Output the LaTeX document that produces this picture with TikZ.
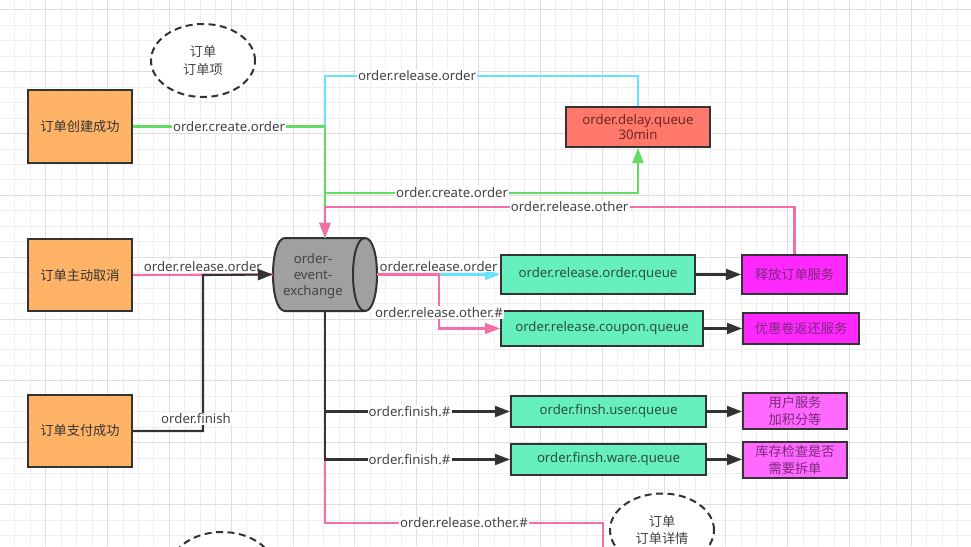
\documentclass[tikz,border=0pt]{standalone}
\usepackage{fontspec}
\setmainfont{Noto Sans}
\newfontfamily\cjk{Noto Sans CJK SC}
\usetikzlibrary{arrows.meta,shapes.geometric,calc}
\definecolor{linedark}{RGB}{51,51,51}
\definecolor{labelgray}{RGB}{68,68,68}
\definecolor{orangefill}{RGB}{255,179,102}
\definecolor{delayfill}{RGB}{255,120,105}
\definecolor{delaytext}{RGB}{110,40,35}
\definecolor{qfill}{RGB}{102,240,190}
\definecolor{qtext}{RGB}{45,80,65}
\definecolor{magA}{RGB}{255,40,255}
\definecolor{magB}{RGB}{255,105,255}
\definecolor{magtext}{RGB}{125,40,125}
\definecolor{exfill}{RGB}{160,160,160}
\definecolor{cyanline}{RGB}{102,228,255}
\definecolor{greenline}{RGB}{100,220,100}
\definecolor{pinkline}{RGB}{245,110,165}
\definecolor{gridminor}{RGB}{238,238,238}
\definecolor{gridmajor}{RGB}{222,222,222}
\tikzset{
  basefont/.style={font=\fontsize{13.2}{16.5}\selectfont},
  cjkfont/.style={font=\cjk\fontsize{13.2}{16.5}\selectfont},
  srcbox/.style={draw=linedark, line width=2pt, fill=orangefill, inner sep=0pt, align=center, cjkfont, text=linedark},
  delaybox/.style={draw=linedark, line width=2pt, fill=delayfill, inner sep=0pt, align=center, font=\fontsize{13.2}{15.5}\selectfont, text=delaytext},
  qbox/.style={draw=linedark, line width=2pt, fill=qfill, inner sep=0pt, align=center, basefont, text=qtext},
  svcbox/.style={draw=linedark, line width=2pt, inner sep=0pt, align=center, cjkfont, text=magtext},
  note/.style={ellipse, draw=linedark, line width=2pt, dash pattern=on 7pt off 4.5pt, fill=white, inner sep=0pt, minimum width=104pt, minimum height=73pt, align=center, font=\cjk\fontsize{13.2}{17.5}\selectfont, text=labelgray},
  lbl/.style={fill=white, inner sep=1.2pt, basefont, text=labelgray},
  conn/.style={line width=2.1pt},
  dline/.style={conn, draw=linedark},
  cline/.style={conn, draw=cyanline},
  gline/.style={conn, draw=greenline},
  pline/.style={conn, draw=pinkline},
  arr/.style={-{Triangle[length=15pt,width=11pt]}},
}
\begin{document}
\begin{tikzpicture}[x=1pt,y=-1pt]
\clip (0,0) rectangle (971,546);
\fill[white] (0,0) rectangle (971,546);
% grid
\foreach \i in {-3,...,60} {\draw[gridminor, line width=1pt] ({45.7+\i*15.46},0) -- ({45.7+\i*15.46},546);}
\foreach \j in {-5,...,31} {\draw[gridminor, line width=1pt] (0,{71.7+\j*15.46}) -- (971,{71.7+\j*15.46});}
\foreach \i in {0,...,15} {\draw[gridmajor, line width=1pt] ({45.7+\i*61.84},0) -- ({45.7+\i*61.84},546);}
\foreach \j in {-1,...,7} {\draw[gridmajor, line width=1pt] (0,{71.7+\j*61.84}) -- (971,{71.7+\j*61.84});}

% exchange cylinder
\node[minimum width=104pt, minimum height=73pt, inner sep=0pt] (ex) at (325,274.5) {};
\filldraw[fill=exfill, draw=linedark, line width=2pt]
  (285,238) -- (365,238) .. controls (381,238) and (381,311) .. (365,311)
  -- (285,311) .. controls (269,311) and (269,238) .. (285,238) -- cycle;
\draw[linedark, line width=2pt] (365,238) .. controls (349,238) and (349,311) .. (365,311);
\node[align=center, text=labelgray, inner sep=0pt, font=\fontsize{13.2}{16}\selectfont] (exl) at (313,276) {order-\\event-\\exchange};

% source boxes
\node[srcbox, minimum width=104pt, minimum height=73pt] (b1) at (80,126.5) {订单创建成功};
\node[srcbox, minimum width=104pt, minimum height=72pt] (b2) at (80,275) {订单主动取消};
\node[srcbox, minimum width=104pt, minimum height=72pt] (b3) at (80,431) {订单支付成功};

% notes
\node[note] (e1) at (203,60.5) {订单\\订单项};
\node[note] (e2) at (662,530) {订单\\订单详情};
\node[note] (e3) at (222,568.5) {};

% queues
\node[delaybox, minimum width=144pt, minimum height=40pt] (dq) at (638,127) {order.delay.queue\\30min};
\node[qbox, minimum width=194pt, minimum height=39pt] (q1) at (598,274.5) {order.release.order.queue};
\node[qbox, minimum width=202pt, minimum height=35pt] (q2) at (602,328.5) {order.release.coupon.queue};
\node[qbox, minimum width=195pt, minimum height=31pt] (q3) at (608.5,411.5) {order.finsh.user.queue};
\node[qbox, minimum width=195pt, minimum height=31pt] (q4) at (608.5,459.5) {order.finsh.ware.queue};

% services
\node[svcbox, fill=magA, minimum width=105pt, minimum height=39pt] (s1) at (794.5,274.5) {释放订单服务};
\node[svcbox, fill=magA, minimum width=116pt, minimum height=31pt] (s2) at (801,328.5) {优惠卷返还服务};
\node[svcbox, fill=magB, minimum width=104pt, minimum height=36pt] (s3) at (795,411) {用户服务\\加积分等};
\node[svcbox, fill=magB, minimum width=104pt, minimum height=36pt] (s4) at (795,460) {库存检查是否\\需要拆单};

% helper coordinates
\coordinate (jl) at (203,275);
\coordinate (jr) at (439,274.5);
\coordinate (pb) at (603,523);
\coordinate (pend) at (603,560);

% top connectors
\draw[cline, arr] (dq.north) -- ++(0,-30) coordinate (ct) -- (ct -| ex.north)
  node[lbl, pos=0.706] {order.release.order} -- (ex.north);
\draw[gline, arr] (b1.east) -- (b1.east -| ex.north)
  node[lbl, midway] {order.create.order} -- (ex.north);
\draw[gline, arr] (ex.north) -- ++(0,-45) coordinate (cg) -- (cg -| dq.south)
  node[lbl, pos=0.406] {order.create.order} -- (dq.south);
\draw[pline, arr] (s1.north) -- ++(0,-47) coordinate (cp) -- (cp -| ex.north)
  node[lbl, pos=0.479] {order.release.other} -- (ex.north);

% left connectors
\draw[pline] (b2.east) -- (ex.west) node[lbl, midway, above, yshift=1pt] {order.release.order};
\draw[dline, arr] (b3.east) -- (b3.east -| jl) -- (jl)
  node[lbl, pos=0.077, xshift=-7pt] {order.finish} -- (ex.west);

% right connectors
\draw[cline, arr] (ex.east) -- (q1.west) node[lbl, midway, above, yshift=1pt] {order.release.order};
\draw[pline, arr] (ex.east) -- (jr) -- (jr |- q2.west)
  node[lbl, pos=0.7] {order.release.other.\#} -- (q2.west);

% bottom connectors
\draw[pline] (ex.south) |- (pb) node[lbl, pos=0.75] {order.release.other.\#} -- (pend);
\draw[dline, arr] (ex.south) |- (q3.west) node[lbl, pos=0.7285] {order.finish.\#};
\draw[dline, arr] (ex.south) |- (q4.west) node[lbl, pos=0.7285] {order.finish.\#};

% queue to service
\draw[dline, arr] (q1.east) -- (q1.east -| s1.west);
\draw[dline, arr] (q2.east) -- (q2.east -| s2.west);
\draw[dline, arr] (q3.east) -- (q3.east -| s3.west);
\draw[dline, arr] (q4.east) -- (q4.east -| s4.west);
\end{tikzpicture}
\end{document}
